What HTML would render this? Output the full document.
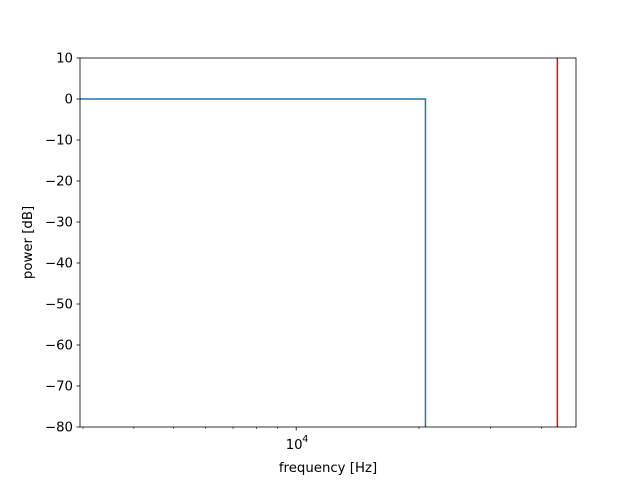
<!DOCTYPE html>
<html><head><meta charset="utf-8"><style>
body{margin:0;background:#fff}
text{font-family:"DejaVu Sans","Liberation Sans",sans-serif;font-size:13.3px;fill:#000}
</style></head><body>
<svg id="chart" width="640" height="480" xmlns="http://www.w3.org/2000/svg"></svg>
<script>
const yTicks=[10,0,-10,-20,-30,-40,-50,-60,-70,-80];
const xMajor=[10000];
const xMinor=[3000,4000,5000,6000,7000,8000,9000,20000,30000,40000];
const respFreq=[2950,20750,20750];
const respDb=[0,0,-90];
const cutoff=[43700];
const L=80,R=576,T=58,B=427,xmin=2950,xmax=48550,ymin=-80,ymax=10;
const X=f=>L+(Math.log10(f)-Math.log10(xmin))/(Math.log10(xmax)-Math.log10(xmin))*(R-L);
const Y=v=>B-(v-ymin)/(ymax-ymin)*(B-T);
const svg=document.getElementById('chart');
const NS='http://www.w3.org/2000/svg';
function mk(t,a,p){const e=document.createElementNS(NS,t);for(const k in a)e.setAttribute(k,a[k]);(p||svg).appendChild(e);return e;}
const clip=mk('clipPath',{id:'c'});mk('rect',{x:L,y:T,width:R-L,height:B-T},clip);
const line=mk('polyline',{points:respFreq.map((f,i)=>X(f)+','+Y(Math.max(respDb[i],ymin-5))).join(' '),fill:'none',stroke:'#1f77b4','stroke-width':1.5,'clip-path':'url(#c)'});


cutoff.forEach(f=>{const l=mk('line',{x1:X(f),x2:X(f),y1:T,y2:B,stroke:'red','stroke-width':1.5});

});
const fr=mk('rect',{x:L,y:T,width:R-L,height:B-T,fill:'none',stroke:'#000','stroke-width':0.8});


yTicks.forEach(v=>{mk('line',{x1:L-3.5,x2:L,y1:Y(v),y2:Y(v),stroke:'#000','stroke-width':0.8});
const t=mk('text',{x:L-7,y:Y(v)+4.5,'text-anchor':'end'});t.textContent=String(v).replace('-','\u2212');

});
xMinor.forEach(f=>mk('line',{x1:X(f),x2:X(f),y1:B,y2:B+2,stroke:'#000','stroke-width':0.6}));
xMajor.forEach(f=>{mk('line',{x1:X(f),x2:X(f),y1:B,y2:B+3.5,stroke:'#000','stroke-width':0.8});
const t=mk('text',{x:X(f)-2,y:B+22,'text-anchor':'middle'});t.textContent='10';
const s=mk('text',{x:X(f)+6,y:B+15});s.style.fontSize='9.5px';s.textContent=String(Math.round(Math.log10(f)));

});
const xt=mk('text',{x:(L+R)/2,y:472,'text-anchor':'middle'});xt.textContent='frequency [Hz]';


const yt=mk('text',{x:32,y:(T+B)/2,'text-anchor':'middle',transform:`rotate(-90 32 ${(T+B)/2})`});yt.textContent='power [dB]';


</script>
</body></html>
